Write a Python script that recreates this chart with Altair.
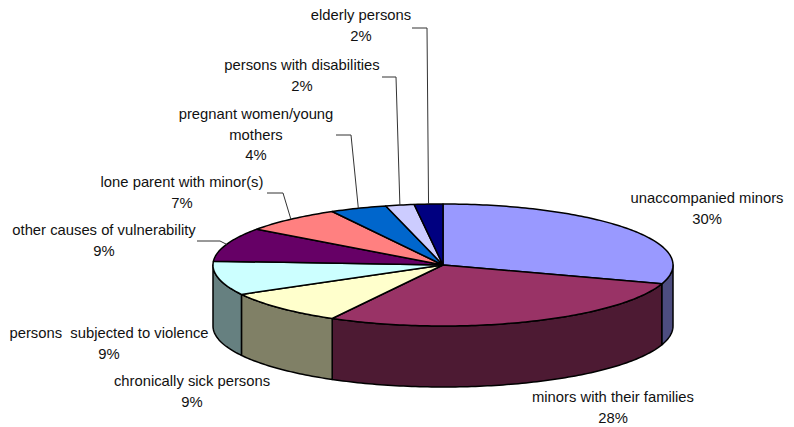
import altair as alt
import numpy as np
import pandas as pd

# ---- data -------------------------------------------------------------
categories = [
    "unaccompanied minors", "minors with their families", "chronically sick persons",
    "persons\u00a0 subjected to violence", "other causes of vulnerability",
    "lone parent with minor(s)", "pregnant women/young mothers",
    "persons with disabilities", "elderly persons",
]
values = [30, 28, 9, 9, 9, 7, 4, 2, 2]
top_colors = ["#9999FF", "#993366", "#FFFFCC", "#CCFFFF", "#660066",
              "#FF8080", "#0066CC", "#CCCCFF", "#000080"]
side_colors = ["#4D4D80", "#4D1A33", "#808066", "#668080", "#330033",
               "#804040", "#003366", "#666680", "#000040"]
label_lines = [["unaccompanied minors"], ["minors with their families"],
               ["chronically sick persons"], ["persons\u00a0 subjected to violence"],
               ["other causes of vulnerability"], ["lone parent with minor(s)"],
               ["pregnant women/young", "mothers"], ["persons with disabilities"],
               ["elderly persons"]]

# ---- layout (pixel positions of label blocks and leader elbows) -------
label_x = [707, 613, 192, 109, 104, 182, 256, 302, 361]
label_y = [199, 398, 382, 334, 231, 183, 115, 66, 16]
line_gap = 20.5
leader_idx = [4, 5, 6, 7, 8]
leader_x0 = [197, 267, 336, 382, 412]
leader_x1 = [220, 283, 351, 396, 427]
leader_y = [241, 193, 135, 77, 28]

CX, CY, RX, RY, DEPTH = 443, 265, 230, 61, 61


def rim(t_deg, dy=0.0):
    t = np.radians(t_deg)
    return CX + RX * np.sin(t), CY - RY * np.cos(t) + dy


def arc_angles(a, b):
    n = max(2, int(np.ceil(b - a)) + 1)
    return np.linspace(a, b, n)


total = float(sum(values))
starts = np.cumsum([0] + values[:-1]) / total * 360.0
ends = np.cumsum(values) / total * 360.0

top_rows, wall_rows = [], []
for i, (a, b) in enumerate(zip(starts, ends)):
    k = 0
    top_rows.append(dict(poly=f"t{i}", k=k, x=CX, y=CY, fill=top_colors[i]))
    for t in arc_angles(a, b):
        k += 1
        x, y = rim(t)
        top_rows.append(dict(poly=f"t{i}", k=k, x=x, y=y, fill=top_colors[i]))
    lo, hi = max(a, 90.0), min(b, 270.0)
    if hi > lo:
        k = 0
        angs = arc_angles(lo, hi)
        for t in angs:
            x, y = rim(t)
            wall_rows.append(dict(poly=f"w{i}", k=k, x=x, y=y, fill=side_colors[i]))
            k += 1
        for t in angs[::-1]:
            x, y = rim(t, DEPTH)
            wall_rows.append(dict(poly=f"w{i}", k=k, x=x, y=y, fill=side_colors[i]))
            k += 1

text_rows = []
for i in range(len(categories)):
    lines = label_lines[i] + [f"{values[i]}%"]
    for j, s in enumerate(lines):
        text_rows.append(dict(text=s, x=label_x[i], y=label_y[i] + j * line_gap))

lead_rows = []
for n, i in enumerate(leader_idx):
    mid = (starts[i] + ends[i]) / 2
    ex, ey = rim(mid)
    lead_rows += [
        dict(g=n, k=0, x=leader_x0[n], y=leader_y[n]),
        dict(g=n, k=1, x=leader_x1[n], y=leader_y[n]),
        dict(g=n, k=2, x=ex, y=ey),
    ]

W, H = 778, 419
xs = alt.Scale(domain=[8, 8 + W])
ys = alt.Scale(domain=[8, 8 + H], reverse=True)
X = lambda: alt.X("x:Q", scale=xs, axis=None)
Y = lambda: alt.Y("y:Q", scale=ys, axis=None)

walls = alt.Chart(pd.DataFrame(wall_rows)).mark_line(
    interpolate="linear-closed", stroke="black", strokeWidth=1.5, strokeJoin="round"
).encode(x=X(), y=Y(), fill=alt.Fill("fill:N", scale=None), detail="poly:N", order="k:Q")

tops = alt.Chart(pd.DataFrame(top_rows)).mark_line(
    interpolate="linear-closed", stroke="black", strokeWidth=1.5, strokeJoin="round"
).encode(x=X(), y=Y(), fill=alt.Fill("fill:N", scale=None), detail="poly:N", order="k:Q")

leaders = alt.Chart(pd.DataFrame(lead_rows)).mark_line(
    stroke="#333333", strokeWidth=1
).encode(x=X(), y=Y(), detail="g:N", order="k:Q")

texts = alt.Chart(pd.DataFrame(text_rows)).mark_text(
    font="Liberation Sans", fontSize=14.8, color="#111111", align="center", baseline="middle"
).encode(x=X(), y=Y(), text="text:N")

chart = alt.layer(walls, tops, leaders, texts).properties(
    width=W, height=H, padding=0, autosize=alt.AutoSizeParams(type="none"),
    background="white",
).configure_view(strokeWidth=0)

chart.save("out.html", embed_options={"renderer": "svg", "actions": False})
